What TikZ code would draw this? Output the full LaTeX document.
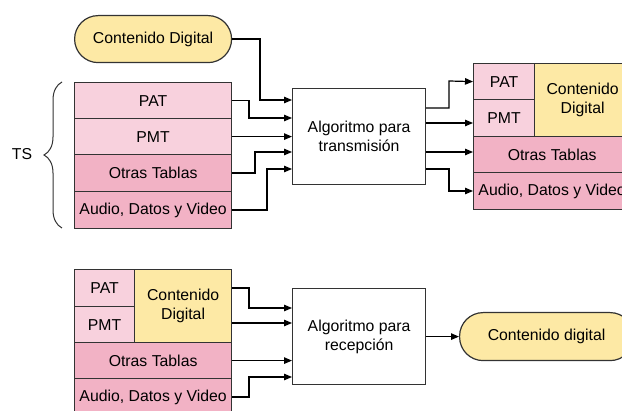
\documentclass[tikz,border=0pt]{standalone}
\usepackage{fontspec}
\setmainfont{Liberation Sans}
\usetikzlibrary{arrows.meta,decorations.pathreplacing}
\definecolor{cdyellow}{HTML}{FDE9A5}
\definecolor{pinklight}{HTML}{F8D1DD}
\definecolor{pinkdark}{HTML}{F2B2C5}
\definecolor{edgegray}{HTML}{333333}
\tikzset{
  base/.style={draw=edgegray, line width=1.2pt, inner sep=0pt, align=center,
    font=\fontsize{15.8}{19}\selectfont, text=black},
  cell/.style={base, anchor=north west},
  lite/.style={cell, fill=pinklight},
  dark/.style={cell, fill=pinkdark},
  yel/.style={cell, fill=cdyellow},
  pill/.style={base, fill=cdyellow, rounded corners=23.5pt, anchor=north west},
  algbox/.style={base, fill=white, anchor=north west,
    minimum width=133pt, minimum height=96pt},
  arr/.style={line width=1.2pt, draw=black,
    -{Triangle[length=8pt,width=6.5pt]}},
  sz/.style 2 args={minimum width=#1pt, minimum height=#2pt},
}
\begin{document}
\begin{tikzpicture}[x=1pt,y=-1pt]
  \useasboundingbox (0,0) rectangle (622,411);
  \clip (0,0) rectangle (622,411);
  \fill[white] (0,0) rectangle (622,411);

  % --- transmission side ---
  \node[pill, sz={157}{47}] (cdin) at (74,15) {Contenido Digital};

  \node[lite, sz={157}{36}] (pat) at (74,82)  {PAT};
  \node[lite, sz={157}{36}] (pmt) at (74,118) {PMT};
  \node[dark, sz={157}{37}] (otr) at (74,154) {Otras Tablas};
  \node[dark, sz={157}{37}] (adv) at (74,191) {Audio, Datos y Video};

  \draw[edgegray, line width=1pt, decorate, decoration={brace, amplitude=18pt}]
    (62,228) -- (62,82);
  \node[font=\fontsize{15.8}{19}\selectfont] (ts) at (22,154) {TS};

  \node[algbox] (tx) at (292,88) {Algoritmo para\\transmisión};

  \node[lite, sz={61}{36}]  (pat2) at (473,63)  {PAT};
  \node[lite, sz={61}{37}]  (pmt2) at (473,99)  {PMT};
  \node[yel,  sz={96}{73}]  (cd2)  at (534,63)  {Contenido\\Digital};
  \node[dark, sz={157}{36}] (otr2) at (473,136) {Otras Tablas};
  \node[dark, sz={157}{37}] (adv2) at (473,172) {Audio, Datos y Video};

  \draw[arr] (cdin.east) -| (260,100) -- (tx.west |- 0,100);
  \draw[arr] (pat.east)  -| (249,118) -- (tx.west |- 0,118);
  \draw[arr] (pmt.east)  -- (tx.west |- pmt.east);
  \draw[arr] (otr.east)  -| (255,152) -- (tx.west |- 0,152);
  \draw[arr] (adv.east)  -| (267,169) -- (tx.west |- 0,169);

  \draw[arr] (tx.east |- 0,108) -| (449,81) -- (pat2.west);
  \draw[arr] (tx.east |- 0,123) -- (pmt2.west |- 0,123);
  \draw[arr] (tx.east |- 0,152) -- (otr2.west |- 0,152);
  \draw[arr] (tx.east |- 0,169) -| (449,191) -- (adv2.west |- 0,191);

  % --- reception side ---
  \node[lite, sz={60}{37}]  (pat3) at (74,269)  {PAT};
  \node[lite, sz={60}{36}]  (pmt3) at (74,306)  {PMT};
  \node[yel,  sz={97}{73}]  (cd3)  at (134,269) {Contenido\\Digital};
  \node[dark, sz={157}{36}] (otr3) at (74,342)  {Otras Tablas};
  \node[dark, sz={157}{37}] (adv3) at (74,378)  {Audio, Datos y Video};

  \node[algbox] (rx) at (292,288) {Algoritmo para\\recepción};
  \node[pill, sz={174}{48}] (cdout) at (459,312) {Contenido digital};

  \draw[arr] (cd3.east |- 0,288) -| (249,308) -- (rx.west |- 0,308);
  \draw[arr] (cd3.east |- 0,323) -- (rx.west |- 0,323);
  \draw[arr] (otr3.east) -- (rx.west |- otr3.east);
  \draw[arr] (adv3.east) -| (249,377) -- (rx.west |- 0,377);
  \draw[arr] (rx.east) -- (cdout.west);
\end{tikzpicture}
\end{document}
